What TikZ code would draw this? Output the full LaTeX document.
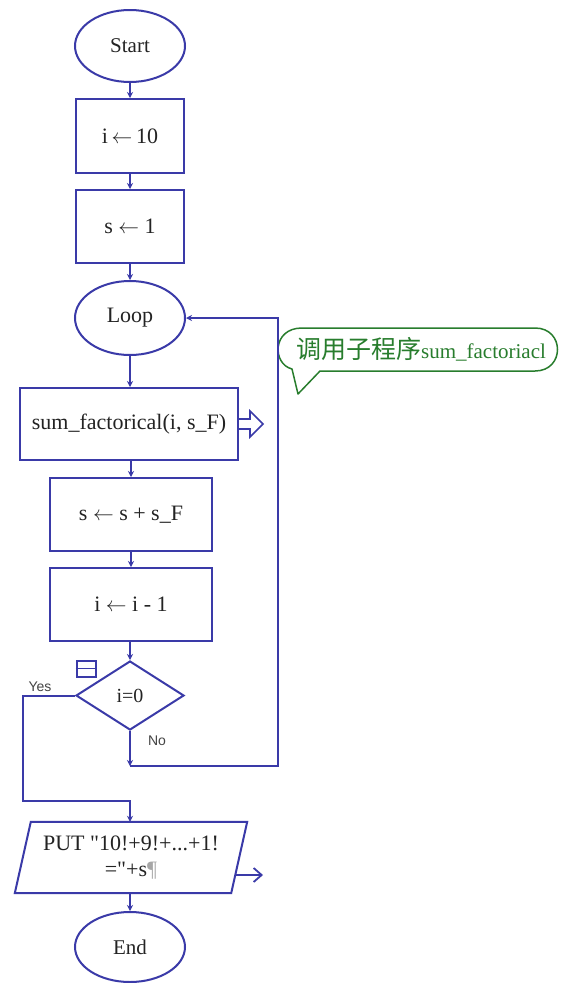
\documentclass[tikz,border=0pt]{standalone}
\usepackage{fontspec}
\setmainfont{Liberation Serif}
\newfontfamily\cjkfont{Noto Sans CJK SC}
\newfontfamily\labfont{Liberation Sans}
\usetikzlibrary{shapes.geometric,arrows.meta}
\definecolor{flow}{RGB}{58,58,168}
\definecolor{txt}{RGB}{35,35,35}
\definecolor{callgreen}{RGB}{40,125,45}
\newcommand{\la}{\ensuremath{\leftarrow}}
\tikzset{
  every node/.style={text=txt},
  term/.style={draw=flow, line width=2pt, ellipse, minimum width=110pt, minimum height=72pt, inner sep=0pt, font=\fontsize{21}{24}\selectfont},
  procbox/.style={draw=flow, line width=2pt, rectangle, inner sep=0pt, font=\fontsize{22}{26}\selectfont},
  decbox/.style={draw=flow, line width=2pt, diamond, minimum width=108pt, minimum height=69pt, inner sep=0pt, font=\fontsize{20}{22}\selectfont},
  conn/.style={draw=flow, line width=2pt, -{Stealth[length=6pt,width=6pt]}},
  plain/.style={draw=flow, line width=2pt},
  yn/.style={font=\labfont\fontsize{14}{16}\selectfont, text=txt!85},
}
\begin{document}
\begin{tikzpicture}[x=1pt,y=-1pt]
\useasboundingbox (0,0) rectangle (564,983);
\fill[white] (0,0) rectangle (564,983);

% nodes
\node[term] (start) at (130,46) {Start};
\node[procbox, minimum width=108pt, minimum height=74pt] (i10) at (130,136) {i\,\la\,10};
\node[procbox, minimum width=108pt, minimum height=73pt] (s1) at (130,226.5) {s \la\ 1};
\node[term, minimum height=74pt, font=\fontsize{22}{24}\selectfont] (loop) at (130,318) {Loop};
\node[procbox, minimum width=218pt, minimum height=72pt] (sum) at (129,424) {sum\_factorical(i, s\_F)};
\node[procbox, minimum width=162pt, minimum height=73pt] (ss) at (131,514.5) {s \la\ s + s\_F};
\node[procbox, minimum width=162pt, minimum height=73pt] (ii) at (131,604.5) {i \la\ i - 1};
\node[decbox] (dec) at (130,695.5) {i=0};
\node[draw=flow, line width=2pt, minimum width=19pt, minimum height=16pt, inner sep=0pt] (collapse) at (86,668.5) {};
\draw[plain, line width=1.6pt] (collapse.west) -- (collapse.east);
\node[yn] (yes) at (40,687) {Yes};
\node[yn] (no) at (157,741) {No};

% output parallelogram
\node[minimum width=232pt, minimum height=71pt, inner sep=0pt, align=center,
      font=\fontsize{22}{26}\selectfont] (put) at (131,857.5)
      {PUT \textquotedbl 10!+9!+...+1!\\=\textquotedbl+s{\color{gray!70}¶}};
\draw[plain, line join=miter] ([xshift=16pt]put.north west) -- (put.north east)
   -- ([xshift=-16pt]put.south east) -- (put.south west) -- cycle;
\coordinate (outA) at (235,875);
\coordinate (outB) at (263,875);
\draw[draw=flow, line width=1.8pt, -{Straight Barb[length=8pt,width=14pt]}] (outA) -- (outB);

\node[term, minimum height=70pt] (end) at (130,947) {End};

% hollow call arrow
\draw[plain, line width=1.6pt, line join=miter]
  (sum.east |- 0,419) -- (250,419) -- (250,411) -- (263,424) -- (250,437) -- (250,429) -- (sum.east |- 0,429);

% callout
\node[inner sep=0pt, text=callgreen] (call) at (421,349)
  {{\cjkfont\fontsize{25}{27}\selectfont 调用子程序}{\fontsize{21}{24}\selectfont sum\_factoriacl}};
\draw[callgreen, line width=1.5pt, line join=round]
  (320,371) -- (535,371) .. controls (565,371) and (565,328) .. (535,328)
  -- (302,328) .. controls (272,328) and (272,364) .. (292,369)
  -- (298,394) -- cycle;

% connectors
\draw[conn] (start) -- (i10);
\draw[conn] (i10) -- (s1);
\draw[conn] (s1) -- (loop);
\draw[conn] (loop) -- (sum.north -| loop);
\draw[conn] (sum.south -| ss) -- (ss);
\draw[conn] (ss) -- (ii);
\draw[conn] (ii.south -| dec) -- (dec);
\coordinate (nocorner) at (130,766);
\coordinate (back1) at (278,766);
\coordinate (back2) at (278,318);
\draw[conn] (dec.south) -- (nocorner);
\draw[conn] (nocorner) -- (back1) -- (back2) -- (loop.east);
\coordinate (yes1) at (23,695.5);
\coordinate (yes2) at (23,801);
\coordinate (yes3) at (130,801);
\draw[conn] (dec.west) -- (yes1) -- (yes2) -- (yes3) -- (put.north -| yes3);
\draw[conn] (put.south -| end) -- (end);
\end{tikzpicture}
\end{document}
